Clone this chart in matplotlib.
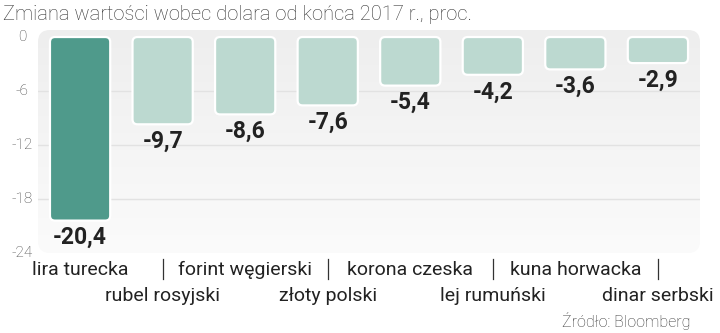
import matplotlib
matplotlib.use("Agg")
import matplotlib.pyplot as plt
import numpy as np
from matplotlib.patches import FancyBboxPatch
from matplotlib.colors import LinearSegmentedColormap

categories = ["lira turecka", "rubel rosyjski", "forint węgierski", "złoty polski",
              "korona czeska", "lej rumuński", "kuna horwacka", "dinar serbski"]
values = [-20.4, -9.7, -8.6, -7.6, -5.4, -4.2, -3.6, -2.9]
yticks = [0, -6, -12, -18, -24]
title = "Zmiana wartości wobec dolara od końca 2017 r., proc."
source = "Źródło: Bloomberg"

W, H = 720, 333
fig = plt.figure(figsize=(7.2, 3.33), dpi=100)
fig.patch.set_facecolor("white")

left_px, right_px, top_px, bot_px = 38, 700, 30, 253
ax = fig.add_axes([left_px / W, 1 - bot_px / H, (right_px - left_px) / W, (bot_px - top_px) / H])
ymin, ymax = -24, 0.78
xmin, xmax = -0.51, 7.51
ax.set_xlim(xmin, xmax)
ax.set_ylim(ymin, ymax)
ax.axis("off")

cmap = LinearSegmentedColormap.from_list("bg", ["#fbfbfb", "#eeeeee"])
grad = np.linspace(0, 1, 256).reshape(-1, 1)
im = ax.imshow(grad, extent=[xmin, xmax, ymax, ymin], aspect="auto", cmap=cmap, zorder=0)
px_x = (xmax - xmin) / (right_px - left_px)
px_y = (ymax - ymin) / (bot_px - top_px)
panel = FancyBboxPatch((xmin, ymin), xmax - xmin, ymax - ymin,
                       boxstyle="round,pad=0,rounding_size=%f" % (12 * px_x),
                       mutation_aspect=px_y / px_x, transform=ax.transData,
                       facecolor="none", edgecolor="none")
ax.add_patch(panel)
im.set_clip_path(panel)

for t in yticks[1:-1]:
    ax.axhline(t, color="#e2e2e2", lw=1, zorder=1)

x = np.arange(len(categories))
bw = 0.73
for i, v in enumerate(values):
    color = "#4f9a8b" if i == 0 else "#bcd9d0"
    p = FancyBboxPatch((x[i] - bw / 2, v), bw, -v,
                       boxstyle="round,pad=0,rounding_size=%f" % (5 * px_x),
                       mutation_aspect=px_y / px_x,
                       facecolor=color, edgecolor="white", lw=1.6, zorder=3)
    ax.add_patch(p)
    ax.annotate(f"{v:.1f}".replace(".", ","), (x[i], v), xytext=(0, -4),
                textcoords="offset points", ha="center", va="top",
                fontsize=16.5, fontweight="bold", family="Roboto",
                color="#222222", zorder=4)

for t in yticks:
    ypx = 37 + (-t) * 9.0
    fig.text(22 / W, 1 - ypx / H, str(t), ha="center", va="center",
             fontsize=11, color="#444444", family="Roboto", fontweight="light")

for i, c in enumerate(categories):
    xc = ax.transData.transform((x[i], 0))[0] / W
    if i % 2 == 0:
        fig.text(xc, 1 - 270 / H, c, ha="center", va="center", fontsize=14,
                 color="#222222", family="Roboto")
    else:
        fig.text(xc, 1 - 296 / H, c, ha="center", va="center", fontsize=14,
                 color="#222222", family="Roboto")
        fig.add_artist(plt.Line2D([xc, xc], [1 - 259 / H, 1 - 279 / H],
                                  color="#333333", lw=0.9, transform=fig.transFigure))

fig.text(3 / W, 1 - 14 / H, title, ha="left", va="center", fontsize=14.5,
         color="#333333", family="Roboto", fontweight="light")
fig.text(690 / W, 1 - 321 / H, source, ha="right", va="center", fontsize=11.5,
         color="#333333", family="Roboto", fontweight="light")

fig.savefig("out.png", dpi=100, facecolor="white")
